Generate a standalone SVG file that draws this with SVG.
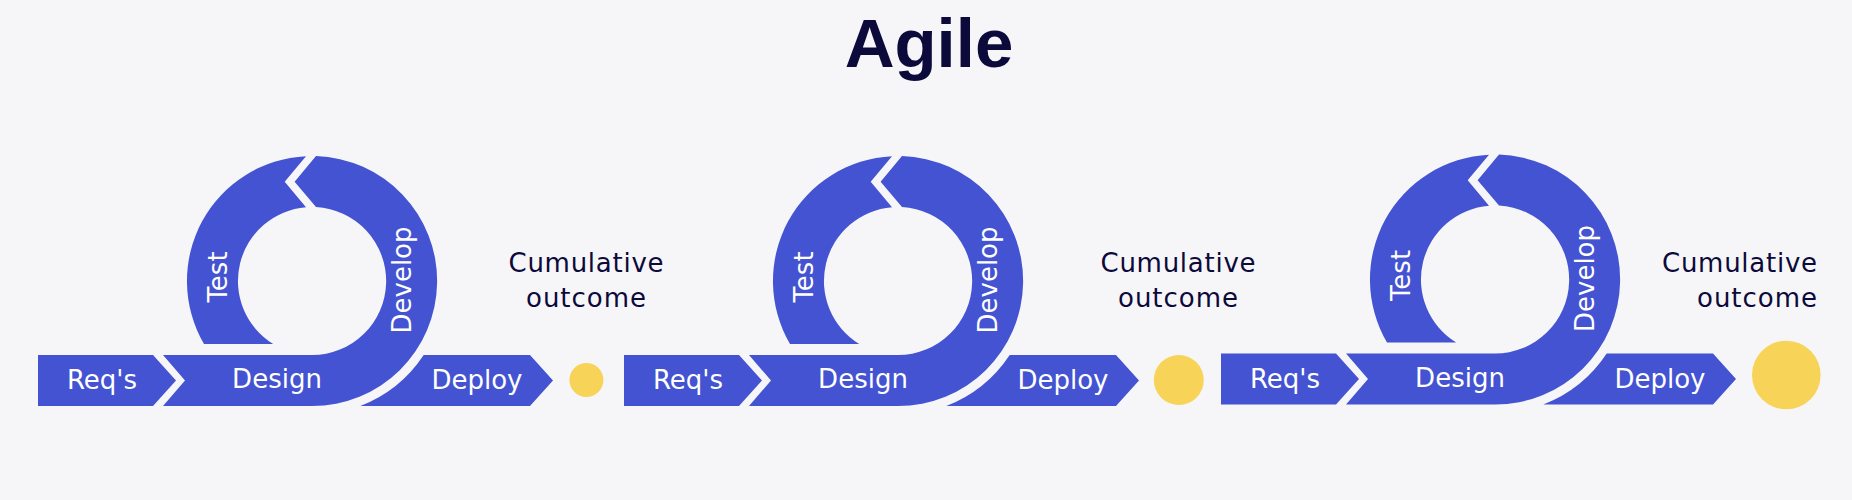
<svg xmlns="http://www.w3.org/2000/svg" xmlns:xlink="http://www.w3.org/1999/xlink" width="1852" height="500" viewBox="0 0 1852 500">
  <defs>
    <style>
      .band { fill: #4453d2; }
      .dot { fill: #f7d358; }
      .lbl { font-family: "DejaVu Sans", "Liberation Sans", sans-serif; font-size: 26px; fill: #ffffff; text-anchor: middle; }
      .out { font-family: "DejaVu Sans", "Liberation Sans", sans-serif; font-size: 26px; fill: #0c0a3a; text-anchor: middle; }
      .title { font-family: "Liberation Sans", Arial, sans-serif; font-size: 69px; font-weight: 700; fill: #0c0a3a; text-anchor: middle; }
    </style>
    <path id="shape-reqs" d="M38,355 H153 L176,380.5 L153,406 H38 Z"/>
    <path id="shape-design" d="M163,355 H312 A74,74 0 0 0 316,207.1 L294.6,181.7 L316,156.06 A125,125 0 0 1 312,406 H163 L185,380.5 Z"/>
    <path id="shape-test" d="M204,344 A125,125 0 0 1 306,156.14 L284.7,181.7 L306,207.2 A74,74 0 0 0 273.2,344 Z"/>
    <path id="shape-deploy" d="M423.7,355 H530 L553,380.5 L530,406 H360.3 A134,134 0 0 0 423.7,355 Z"/>
  </defs>

  <rect x="0" y="0" width="1852" height="500" fill="#f6f6f9"/>

  <g id="title">
    <text class="title" x="929" y="67">Agile</text>
  </g>

  <!-- Iteration 1 -->
  <g id="iter1">
    <g id="iter1-reqs">
      <use xlink:href="#shape-reqs" class="band"/>
      <text class="lbl" x="102" y="389">Req's</text>
    </g>
    <g id="iter1-design">
      <use xlink:href="#shape-design" class="band"/>
      <text class="lbl" x="277" y="388">Design</text>
      <text class="lbl" transform="translate(411,280) rotate(-90)">Develop</text>
    </g>
    <g id="iter1-test">
      <use xlink:href="#shape-test" class="band"/>
      <text class="lbl" transform="translate(227,277) rotate(-90)">Test</text>
    </g>
    <g id="iter1-deploy">
      <use xlink:href="#shape-deploy" class="band"/>
      <text class="lbl" x="477" y="389">Deploy</text>
    </g>
    <g id="iter1-outcome">
      <text class="out" x="586" y="272" textLength="155" lengthAdjust="spacing">Cumulative</text>
      <text class="out" x="586" y="307" textLength="120" lengthAdjust="spacing">outcome</text>
      <circle class="dot" cx="586.4" cy="380" r="17"/>
    </g>
  </g>

  <!-- Iteration 2 -->
  <g id="iter2">
    <g id="iter2-reqs" transform="translate(586,0)">
      <use xlink:href="#shape-reqs" class="band"/>
      <text class="lbl" x="102" y="389">Req's</text>
    </g>
    <g id="iter2-design" transform="translate(586,0)">
      <use xlink:href="#shape-design" class="band"/>
      <text class="lbl" x="277" y="388">Design</text>
      <text class="lbl" transform="translate(411,280) rotate(-90)">Develop</text>
    </g>
    <g id="iter2-test" transform="translate(586,0)">
      <use xlink:href="#shape-test" class="band"/>
      <text class="lbl" transform="translate(227,277) rotate(-90)">Test</text>
    </g>
    <g id="iter2-deploy" transform="translate(586,0)">
      <use xlink:href="#shape-deploy" class="band"/>
      <text class="lbl" x="477" y="389">Deploy</text>
    </g>
    <g id="iter2-outcome">
      <text class="out" x="1178" y="272" textLength="155" lengthAdjust="spacing">Cumulative</text>
      <text class="out" x="1178" y="307" textLength="120" lengthAdjust="spacing">outcome</text>
      <circle class="dot" cx="1178.8" cy="380" r="25"/>
    </g>
  </g>

  <!-- Iteration 3 -->
  <g id="iter3">
    <g id="iter3-reqs" transform="translate(1183,-1.5)">
      <use xlink:href="#shape-reqs" class="band"/>
      <text class="lbl" x="102" y="389">Req's</text>
    </g>
    <g id="iter3-design" transform="translate(1183,-1.5)">
      <use xlink:href="#shape-design" class="band"/>
      <text class="lbl" x="277" y="388">Design</text>
      <text class="lbl" transform="translate(411,280) rotate(-90)">Develop</text>
    </g>
    <g id="iter3-test" transform="translate(1183,-1.5)">
      <use xlink:href="#shape-test" class="band"/>
      <text class="lbl" transform="translate(227,277) rotate(-90)">Test</text>
    </g>
    <g id="iter3-deploy" transform="translate(1183,-1.5)">
      <use xlink:href="#shape-deploy" class="band"/>
      <text class="lbl" x="477" y="389">Deploy</text>
    </g>
    <g id="iter3-outcome">
      <text class="out" x="1817" y="272" style="text-anchor:end" textLength="155" lengthAdjust="spacing">Cumulative</text>
      <text class="out" x="1817" y="307" style="text-anchor:end" textLength="120" lengthAdjust="spacing">outcome</text>
      <circle class="dot" cx="1786.3" cy="375" r="34.3"/>
    </g>
  </g>
</svg>
